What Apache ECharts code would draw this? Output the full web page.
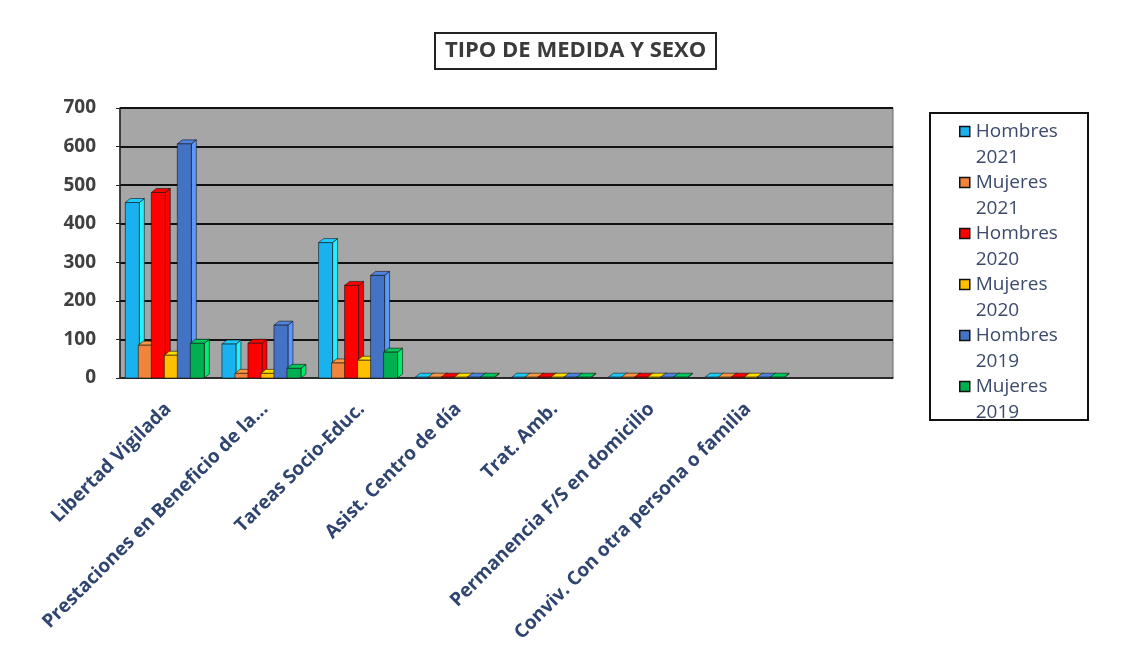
<!DOCTYPE html>
<html>
<head>
<meta charset="utf-8">
<script src="https://cdn.jsdelivr.net/npm/echarts@6/dist/echarts.min.js"></script>
<style>
  html, body { margin: 0; padding: 0; background: #fff; }
  #main { width: 1133px; height: 665px; }
</style>
</head>
<body>
<div id="main"></div>
<script>
// categorias (la ultima va vacia, el grafico original deja ese hueco)
var categorias = ['Libertad Vigilada', 'Prestaciones en Beneficio de la...', 'Tareas Socio-Educ.',
  'Asist. Centro de día', 'Trat. Amb.', 'Permanencia F/S en domicilio', 'Conviv. Con otra persona o familia', ''];

var nombres = ['Hombres 2021', 'Mujeres 2021', 'Hombres 2020', 'Mujeres 2020', 'Hombres 2019', 'Mujeres 2019'];
var colores = ['#1ab2ee', '#f0843a', '#ff0000', '#ffc000', '#4472c4', '#00b050'];

var hombres2021 = [455, 88, 351, 2, 2, 2, 2];
var mujeres2021 = [85, 12, 39, 2, 2, 2, 2];
var hombres2020 = [481, 90, 240, 2, 2, 2, 2];
var mujeres2020 = [59, 12, 46, 2, 2, 2, 2];
var hombres2019 = [607, 137, 266, 2, 2, 2, 2];
var mujeres2019 = [90, 25, 67, 2, 2, 2, 2];

var yTicks = [0, 700, 100];   // min, max, intervalo

var valores = [hombres2021, mujeres2021, hombres2020, mujeres2020, hombres2019, mujeres2019];

var chart = echarts.init(document.getElementById('main'));

// barra con efecto 3D: cara frontal + tapa + lateral
function barra3D(s) {
  return function (params, api) {
    var base = api.coord([api.value(0), 0]);
    var tope = api.coord([api.value(0), api.value(1)]);
    var ancho = 14, dx = 5, dy = -4;
    var izq = base[0] - 43 + s * 13;
    var c = colores[s];
    var borde = 'rgba(20,20,20,0.75)';
    return {
      type: 'group',
      children: [
        { type: 'polygon', shape: { points: [[izq + ancho, tope[1]], [izq + ancho + dx, tope[1] + dy], [izq + ancho + dx, base[1] + dy], [izq + ancho, base[1]]] },
          style: { fill: echarts.color.lift(c, -0.35), stroke: borde, lineWidth: 0.8 } },
        { type: 'polygon', shape: { points: [[izq, tope[1]], [izq + dx, tope[1] + dy], [izq + ancho + dx, tope[1] + dy], [izq + ancho, tope[1]]] },
          style: { fill: echarts.color.lift(c, -0.15), stroke: borde, lineWidth: 0.8 } },
        { type: 'rect', shape: { x: izq, y: tope[1], width: ancho, height: base[1] - tope[1] },
          style: { fill: c, stroke: borde, lineWidth: 0.8 } }
      ]
    };
  };
}

var series = [];
for (var s = 0; s < nombres.length; s++) {
  var datos = [];
  for (var i = 0; i < valores[s].length; i++) {
    datos.push([i, valores[s][i]]);
  }
  series.push({
    name: nombres[s],
    type: 'custom',
    renderItem: barra3D(s),
    itemStyle: { color: colores[s] },
    encode: { x: 0, y: 1 },
    data: datos
  });
}

var option = {
  animation: false,
  title: {
    text: 'TIPO DE MEDIDA Y SEXO',
    left: 435,
    top: 33,
    padding: [7, 10, 7, 10],
    borderColor: '#222',
    borderWidth: 2,
    textStyle: { fontFamily: 'Open Sans', fontSize: 22, fontWeight: 'bold', color: '#3a3a3a' }
  },
  legend: {
    orient: 'vertical',
    left: 954,
    top: 114,
    itemWidth: 12,
    itemHeight: 36,
    itemGap: 0,
    // cuadrado arriba, el punto suelto estira la caja para que quede a la altura de la 1a linea
    icon: 'path://M0,0H10V10H0Z M0,36',
    itemStyle: { borderColor: '#111', borderWidth: 1.5 },
    formatter: function (n) { return n.replace(' ', '\n'); },
    textStyle: { fontFamily: 'Open Sans', fontSize: 19, lineHeight: 25.5, color: '#3b4a6b' },
    data: nombres
  },
  graphic: [{
    type: 'rect',
    shape: { x: 930, y: 113, width: 158, height: 307 },
    style: { fill: 'none', stroke: '#111', lineWidth: 2 }
  }],
  grid: {
    left: 120,
    right: 240,
    top: 108,
    bottom: 287,
    show: true,
    backgroundColor: '#a6a6a6',
    borderColor: '#666',
    borderWidth: 1
  },
  xAxis: {
    type: 'category',
    data: categorias,
    axisTick: { show: false },
    axisLine: { lineStyle: { color: '#333', width: 1.5 } },
    axisLabel: {
      interval: 0,
      rotate: 45,
      margin: 28,
      fontFamily: 'Open Sans',
      fontSize: 19,
      fontWeight: 'bold',
      color: '#2f4570'
    }
  },
  yAxis: {
    type: 'value',
    min: yTicks[0],
    max: yTicks[1],
    interval: yTicks[2],
    axisLine: { show: true, lineStyle: { color: '#222', width: 1.5 } },
    axisTick: { show: true, length: 4, lineStyle: { color: '#222' } },
    splitLine: { lineStyle: { color: '#111', width: 2 } },
    axisLabel: { margin: 24, padding: [8, 0, 0, 0], fontFamily: 'Open Sans', fontSize: 19, fontWeight: 'bold', color: '#404040' }
  },
  series: series
};

chart.setOption(option);
</script>
</body>
</html>
